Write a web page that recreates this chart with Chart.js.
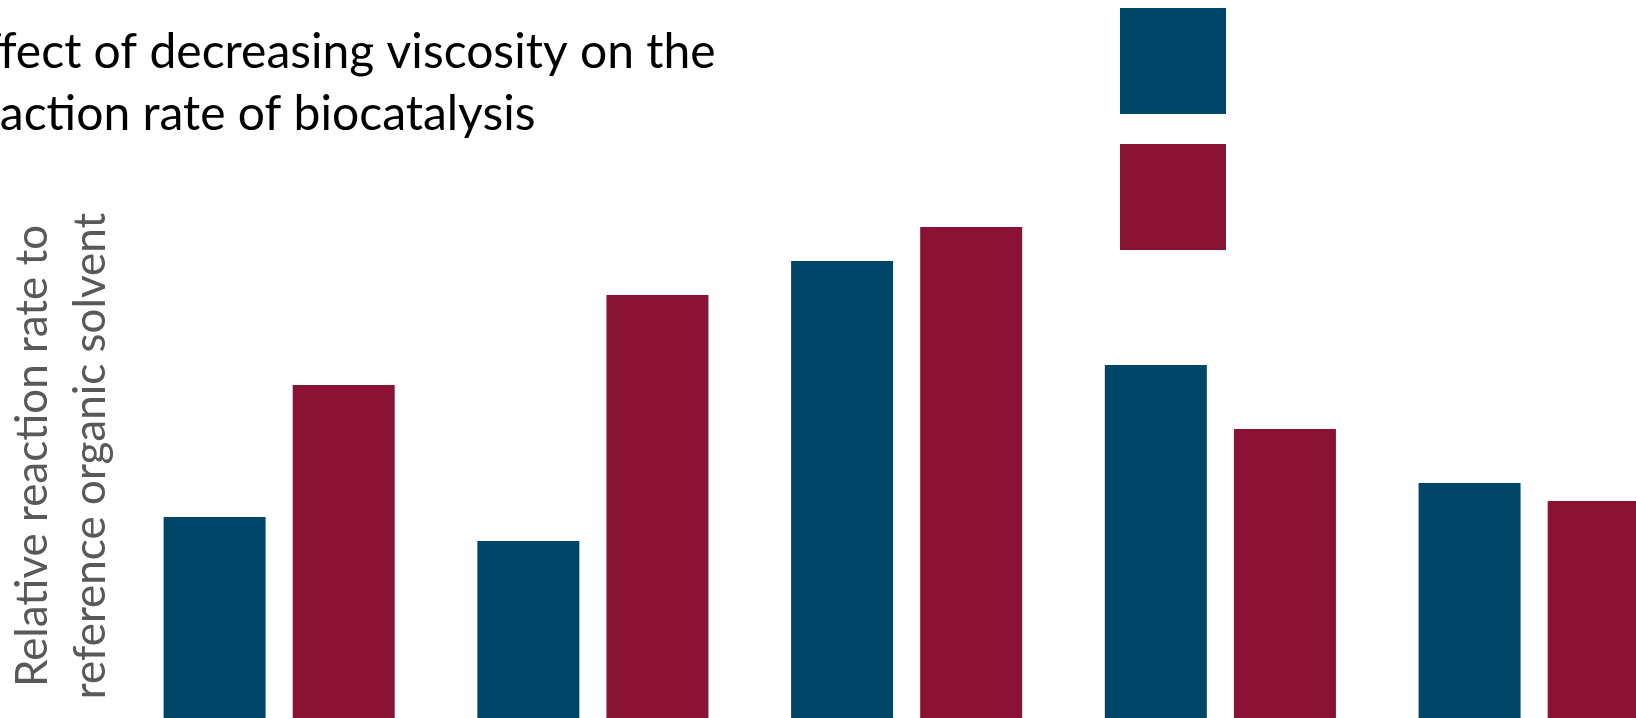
<!DOCTYPE html>
<html>
<head>
<meta charset="utf-8">
<script src="https://cdn.jsdelivr.net/npm/chart.js@4.4.1/dist/chart.umd.min.js"></script>
<style>
  html, body { margin: 0; padding: 0; background: #fff; overflow: hidden; }
  #wrap { position: absolute; left: -42px; top: 0; }
</style>
</head>
<body>
<div id="wrap"><canvas id="rate-chart" width="1733" height="741"></canvas></div>
<script>
// biocatalysis systems
const categories = ['I', 'II', 'III', 'IV', 'V']
// relative reaction rate, reference organic solvent = 1
const originalRates = [1.12, 1.00, 2.40, 1.88, 1.29]
const lowViscosityRates = [1.78, 2.23, 2.57, 1.56, 1.20]

const BLUE = '#004668'
const RED = '#891235'

// square legend swatches, no labels
const swatchLegend = {
  id: 'swatchLegend',
  afterDraw(chart, args, opts) {
    const ctx = chart.ctx
    ctx.save()
    chart.data.datasets.forEach((ds, i) => {
      ctx.fillStyle = ds.backgroundColor
      ctx.fillRect(opts.x, opts.y + i * opts.step, opts.size, opts.size)
    })
    ctx.restore()
  }
}

const ratedata = {
  labels: categories,
  datasets: [{
    label: 'Original viscosity',
    data: originalRates,
    backgroundColor: BLUE,
    borderWidth: 0
  },
  {
    label: 'Decreased viscosity',
    data: lowViscosityRates,
    backgroundColor: RED,
    borderWidth: 0
  }
  ]
}

const ratechartconfig = {
  type: 'bar',
  data: ratedata,
  plugins: [swatchLegend],
  options: {
    responsive: false,
    animation: false,
    devicePixelRatio: 1,
    layout: {
      padding: 0
    },
    datasets: {
      bar: {
        categoryPercentage: 0.823,
        barPercentage: 0.79
      }
    },
    scales: {
      x: {
        display: false,
        offset: true
      },
      y: {
        min: 0,
        max: 2.85,
        grid: {
          display: false,
          drawTicks: false
        },
        border: {
          display: false
        },
        ticks: {
          display: false
        },
        title: {
          display: true,
          text: ['Relative reaction rate to', 'reference organic solvent'],
          color: '#595959',
          font: {
            family: 'Lato',
            size: 44,
            lineHeight: 1.31
          },
          padding: { top: 46, bottom: 3 }
        }
      }
    },
    plugins: {
      legend: {
        display: false
      },
      tooltip: {
        enabled: false
      },
      title: {
        display: true,
        align: 'start',
        text: ['Effect of decreasing viscosity on the', 'reaction rate of biocatalysis'],
        color: '#000000',
        font: {
          family: 'Lato',
          size: 48,
          weight: 'normal',
          lineHeight: 1.28
        },
        padding: { top: 22, bottom: 26 }
      },
      swatchLegend: {
        x: 1162,
        y: 8,
        size: 106,
        step: 136
      }
    }
  }
}

const chartElementRate = document.getElementById('rate-chart').getContext('2d')
const chartRate = new Chart(chartElementRate, ratechartconfig)
</script>
</body>
</html>
